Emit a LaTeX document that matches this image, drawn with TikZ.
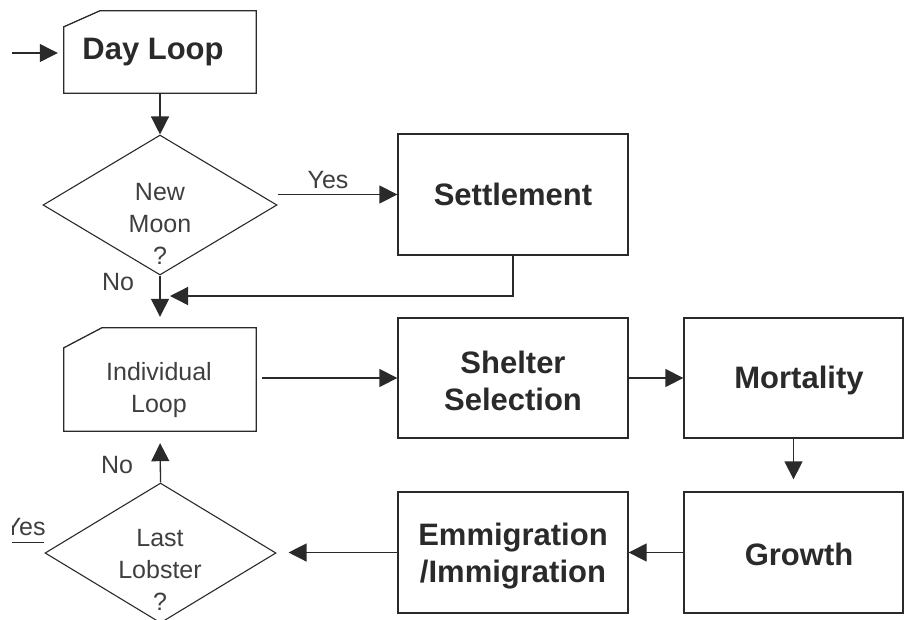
\documentclass[tikz,border=0pt]{standalone}
\usepackage{fontspec}
\setmainfont{Liberation Sans}
\usetikzlibrary{shapes.geometric,arrows.meta}
\definecolor{ink}{HTML}{2A2A2A}
\tikzset{
  ln/.style={line width=1.3pt, draw=ink},
  arr/.style={ln, -{Triangle[length=18pt,width=18pt]}},
  box/.style={rectangle, draw=ink, line width=1.3pt, inner sep=0pt, minimum width=230pt, minimum height=121pt},
  hidbox/.style={rectangle, inner sep=0pt, minimum width=192pt},
  dia/.style={diamond, draw=ink, line width=1.1pt, inner sep=0pt},
  btxt/.style={font=\fontsize{31}{37}\bfseries\selectfont, text=ink, align=center, inner sep=0pt},
  rtxt/.style={font=\fontsize{25}{32}\selectfont, text=ink!90, align=center, inner sep=0pt},
}
\begin{document}
\begin{tikzpicture}[x=1pt,y=-1pt]
\useasboundingbox (0,0) rectangle (904,619);
% Day Loop
\node[hidbox, minimum height=82pt] (day) at (160,52) {};
\draw[ln] ([yshift=-16pt]day.north west) -- ([xshift=36pt]day.north west) -- (day.north east) -- (day.south east) -- (day.south west) -- cycle;
\node[btxt] (dayt) at (153,52) {Day Loop};
% New Moon
\node[dia, minimum width=234pt, minimum height=140pt] (nm) at (160,205) {};
\node[rtxt] (nmt) at (160,224) {New\\Moon\\?};
% Settlement
\node[box] (settle) at (513,194.5) {};
\node[btxt] (settlet) at (513,194) {Settlement};
% Individual Loop
\node[hidbox, minimum height=103pt] (ind) at (160,379.5) {};
\draw[ln] ([yshift=-20pt]ind.north west) -- ([xshift=38pt]ind.north west) -- (ind.north east) -- (ind.south east) -- (ind.south west) -- cycle;
\node[rtxt] (indt) at (159,390) {Individual\\Loop};
% Shelter Selection
\node[box, minimum height=120pt] (shel) at (513,378) {};
\node[btxt] (shelt) at (513,381) {Shelter\\Selection};
% Mortality
\node[box, minimum width=219pt, minimum height=120pt] (mort) at (793.5,378) {};
\node[btxt] (mortt) at (799,380) {Mortality};
% Growth
\node[box, minimum width=219pt] (grow) at (793.5,552.5) {};
\node[btxt] (growt) at (799,554) {Growth};
% Emmigration
\node[box] (emm) at (513,552.5) {};
\node[btxt] (emmt) at (513,556) {Emmigration\\/Immigration};
% Last Lobster
\node[dia, minimum width=231pt, minimum height=140pt] (ll) at (160.5,553) {};
\node[rtxt] (llt) at (160,570) {Last\\Lobster\\?};

% connectors
\coordinate (start) at (12,53);
\draw[arr, shorten >=6pt] (start) -- (day.west |- start);
\draw[arr] (day.south) -- (nm.north);
\draw[arr] (nm.east |- settle.west) -- (settle.west);
\node[rtxt, anchor=base] (yes1) at (328,188) {Yes};
\draw[arr, shorten >=11pt] (nm.south) -- (ind.north);
\node[rtxt, anchor=base] (no1) at (118,290) {No};
\coordinate (fb) at (170,296);
\draw[arr] (settle.south) |- (fb);
\draw[arr, shorten <=6pt] (ind.east |- shel.west) -- (shel.west);
\draw[arr] (shel.east) -- (mort.west);
\draw[arr, shorten >=12pt] (mort.south) -- (grow.north);
\draw[arr] (grow.west) -- (emm.east);
\draw[arr, shorten >=12pt] (emm.west) -- (emm.west -| ll.east);
\draw[arr, shorten >=12pt] (ll.north) -- (ind.south);
\node[rtxt, anchor=base] (no2) at (117,473) {No};
\begin{scope}
\clip (12,495) rectangle (100,560);
\node[rtxt, anchor=base west] (yes2) at (4.5,535) {Yes};
\end{scope}
\coordinate (ya) at (12,542);
\coordinate (yb) at (44,542);
\draw[ln, line width=1pt] (ya) -- (yb);
\end{tikzpicture}
\end{document}
